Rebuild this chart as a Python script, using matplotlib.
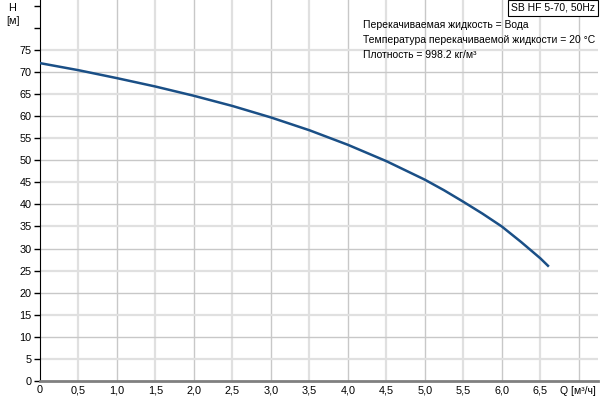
import matplotlib
matplotlib.use("Agg")
import matplotlib.pyplot as plt

# pump curve
q = [0, 0.5, 1.0, 1.5, 2.0, 2.5, 3.0, 3.5, 4.0, 4.5, 5.0, 5.25, 5.5, 5.75, 6.0, 6.25, 6.5, 6.6]
h = [72.0, 70.4, 68.6, 66.7, 64.6, 62.3, 59.7, 56.8, 53.5, 49.8, 45.6, 43.2, 40.6, 37.9, 35.0, 31.5, 27.8, 26.1]

xticks = [0, 0.5, 1.0, 1.5, 2.0, 2.5, 3.0, 3.5, 4.0, 4.5, 5.0, 5.5, 6.0, 6.5, 7.0]
xlabels = ["0", "0,5", "1,0", "1,5", "2,0", "2,5", "3,0", "3,5", "4,0", "4,5",
           "5,0", "5,5", "6,0", "6,5", ""]
yticks = list(range(0, 80, 5))
info = ["Перекачиваемая жидкость = Вода",
        "Температура перекачиваемой жидкости = 20 °C",
        "Плотность = 998.2 кг/м³"]
title = "SB HF 5-70, 50Hz"

plt.rcParams['font.family'] = ['Liberation Sans', 'DejaVu Sans']
fig = plt.figure(figsize=(6, 4), dpi=100)
ax = fig.add_axes([40/600, 19/400, 558/600, 381/400])

ax.set_xlim(0, 7.25)
ax.set_ylim(0, 86.3)

# grid: integers darker/thin, halves lighter/thicker
for x in xticks[1:]:
    if abs(x - round(x)) < 1e-9:
        ax.axvline(x, color='#c8c8c8', lw=1.0, zorder=0)
    else:
        ax.axvline(x, color='#e0e0e0', lw=1.6, zorder=0)
for y in yticks[1:]:
    if y % 10 == 0:
        ax.axhline(y, color='#c8c8c8', lw=1.0, zorder=0)
    else:
        ax.axhline(y, color='#e0e0e0', lw=1.6, zorder=0)

ax.plot(q, h, color='#1a4f86', lw=1.8, zorder=3)

ax.set_xticks(xticks)
ax.set_xticklabels(xlabels, fontsize=7.8)
ax.set_yticks(yticks + [80, 85])
ax.set_yticklabels([str(v) for v in yticks] + ["", ""], fontsize=7.8)
ax.tick_params(axis='both', length=4, width=1, color='black', pad=2)
ax.tick_params(axis='x', length=0, pad=3)

for s in ['top', 'right']:
    ax.spines[s].set_visible(False)
ax.spines['left'].set_color('black')
ax.spines['bottom'].set_color('#808080')
ax.spines['bottom'].set_linewidth(2)

fig.text(8/600, 1 - 8/400, "H", fontsize=7.8, ha='left', va='center')
fig.text(6/600, 1 - 21/400, "[м]", fontsize=7.8, ha='left', va='center')
fig.text(560/600, 9/400, "Q [м³/ч]", fontsize=7.5, ha='left', va='center')

for i, line in enumerate(info):
    fig.text(363/600, 1 - (25 + 15*i)/400, line, fontsize=7.5, ha='left', va='center')

fig.text(595/600, 1 - 8/400, title, fontsize=7.5, ha='right', va='center',
         bbox=dict(boxstyle='square,pad=0.25', fc='white', ec='black', lw=0.8))

fig.savefig("out.png", dpi=100)
